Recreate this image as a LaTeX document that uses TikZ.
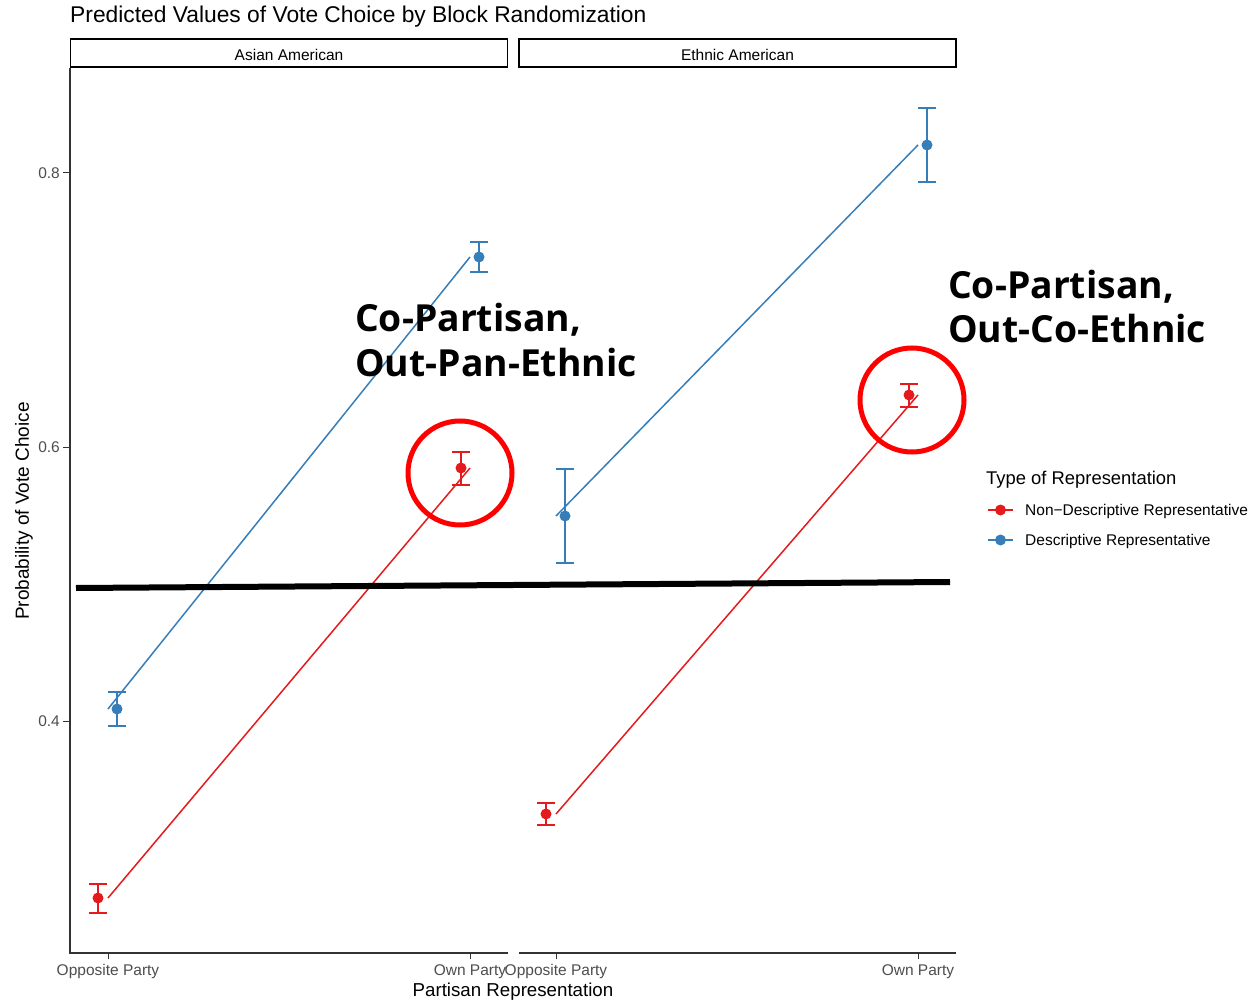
\documentclass[tikz,border=0pt]{standalone}
\usepackage{fontspec}
\setmainfont{Liberation Sans}
\newfontfamily\notefont{Open Sans}
\definecolor{nondesc}{HTML}{E41A1C}
\definecolor{desc}{HTML}{377EB8}
\definecolor{ticktext}{HTML}{4D4D4D}
\definecolor{axisgrey}{HTML}{333333}
\begin{document}
\begin{tikzpicture}[x=1pt,y=-1pt]
\tikzstyle{dot}=[circle, inner sep=0pt, minimum size=11pt]
\tikzstyle{errbar}=[line width=2.6pt]
\tikzstyle{fitline}=[line width=1.5pt]
\tikzstyle{ring}=[draw=red, line width=5pt, circle, minimum size=104pt, inner sep=0pt]
\tikzstyle{strip}=[draw, line width=1.3pt, minimum width=437pt, minimum height=28pt, inner sep=0pt]
\tikzstyle{small}=[inner sep=0pt, font=\fontsize{15.5}{18}\selectfont]
\tikzstyle{note}=[align=left, anchor=base west, inner sep=0pt, font=\notefont\bfseries\fontsize{37.3}{44}\selectfont]
\useasboundingbox (0,0) rectangle (1256,1000);

% title and strips
\node [anchor=base west, inner sep=0pt, font=\fontsize{22.8}{26}\selectfont] (title) at (70,23) {Predicted Values of Vote Choice by Block Randomization};
\node [strip] (strip-a) at (289,53) {};
\node [strip] (strip-e) at (737.5,53) {};
\node [small, anchor=base] (lab-a) at (289,61) {Asian American};
\node [small, anchor=base] (lab-e) at (737.5,61) {Ethnic American};

% axes
\draw [axisgrey, line width=1.3pt] (70,68) -- (70,953) -- (508,953);
\draw [axisgrey, line width=1.3pt] (519,953) -- (956,953);
\draw [axisgrey, line width=1pt] (63,173) -- (70,173) (63,447) -- (70,447) (63,721) -- (70,721);
\draw [axisgrey, line width=1pt] (108,953) -- (108,959) (470,953) -- (470,959) (556,953) -- (556,959) (918,953) -- (918,959);
\node [small, text=ticktext, anchor=base east] (t8) at (60,178.5) {0.8};
\node [small, text=ticktext, anchor=base east] (t6) at (60,452.5) {0.6};
\node [small, text=ticktext, anchor=base east] (t4) at (60,726.5) {0.4};
\node [small, text=ticktext, anchor=base] (xa1) at (108,975) {Opposite Party};
\node [small, text=ticktext, anchor=base] (xa2) at (470,975) {Own Party};
\node [small, text=ticktext, anchor=base] (xe1) at (556,975) {Opposite Party};
\node [small, text=ticktext, anchor=base] (xe2) at (918,975) {Own Party};
\node [anchor=base, inner sep=0pt, font=\fontsize{18.7}{22}\selectfont] (xlab) at (513,996) {Partisan Representation};
\node [rotate=90, inner sep=0pt, font=\fontsize{19}{22}\selectfont] (ylab) at (24,511) {Probability of Vote Choice};

% line ends
\coordinate (ao-d) at (108,709);
\coordinate (ap-d) at (470,257);
\coordinate (ao-n) at (108,898);
\coordinate (ap-n) at (470,468);
\coordinate (eo-d) at (556,516);
\coordinate (ep-d) at (918,145);
\coordinate (eo-n) at (556,814);
\coordinate (ep-n) at (918,395);
\draw [fitline, desc] (ao-d) -- (ap-d);
\draw [fitline, nondesc] (ao-n) -- (ap-n);
\draw [fitline, desc] (eo-d) -- (ep-d);
\draw [fitline, nondesc] (eo-n) -- (ep-n);

% error bars
\draw [errbar, desc] (108,692) -- (126,692) (117,692) -- (117,726) (108,726) -- (126,726);
\draw [errbar, nondesc] (89,884) -- (107,884) (98,884) -- (98,913) (89,913) -- (107,913);
\draw [errbar, desc] (470,242) -- (488,242) (479,242) -- (479,272) (470,272) -- (488,272);
\draw [errbar, nondesc] (452,452) -- (470,452) (461,452) -- (461,485) (452,485) -- (470,485);
\draw [errbar, desc] (556,469) -- (574,469) (565,469) -- (565,563) (556,563) -- (574,563);
\draw [errbar, nondesc] (537,803) -- (555,803) (546,803) -- (546,825) (537,825) -- (555,825);
\draw [errbar, desc] (918,108) -- (936,108) (927,108) -- (927,182) (918,182) -- (936,182);
\draw [errbar, nondesc] (900,384) -- (918,384) (909,384) -- (909,407) (900,407) -- (918,407);

% points
\node [dot, fill=desc] (p-ao-d) at (117,709) {};
\node [dot, fill=nondesc] (p-ao-n) at (98,898) {};
\node [dot, fill=desc] (p-ap-d) at (479,257) {};
\node [dot, fill=nondesc] (p-ap-n) at (461,468) {};
\node [dot, fill=desc] (p-eo-d) at (565,516) {};
\node [dot, fill=nondesc] (p-eo-n) at (546,814) {};
\node [dot, fill=desc] (p-ep-d) at (927,145) {};
\node [dot, fill=nondesc] (p-ep-n) at (909,395) {};

% half line
\coordinate (half-l) at (76,588);
\coordinate (half-r) at (950,582);
\draw [line width=6pt] (half-l) -- (half-r);

% circles and notes
\node [ring] (ring-a) at (460,473) {};
\node [ring] (ring-e) at (912,400) {};
\node [note] (note-a) at (355,376) {Co-Partisan,\\Out-Pan-Ethnic};
\node [note] (note-e) at (948,343) {Co-Partisan,\\Out-Co-Ethnic};

% legend
\node [anchor=base west, inner sep=0pt, font=\fontsize{18.4}{22}\selectfont] (leg-title) at (986,484) {Type of Representation};
\coordinate (key-n-l) at (988,510);
\coordinate (key-n-r) at (1013,510);
\coordinate (key-d-l) at (988,540);
\coordinate (key-d-r) at (1013,540);
\draw [errbar, nondesc] (key-n-l) -- (key-n-r);
\draw [errbar, desc] (key-d-l) -- (key-d-r);
\node [dot, fill=nondesc] (key-n) at (1000.5,510) {};
\node [dot, fill=desc] (key-d) at (1000.5,540) {};
\node [small, anchor=base west] (leg-n) at (1025,515.5) {Non\textminus Descriptive Representative};
\node [small, anchor=base west] (leg-d) at (1025,545.5) {Descriptive Representative};
\end{tikzpicture}
\end{document}
